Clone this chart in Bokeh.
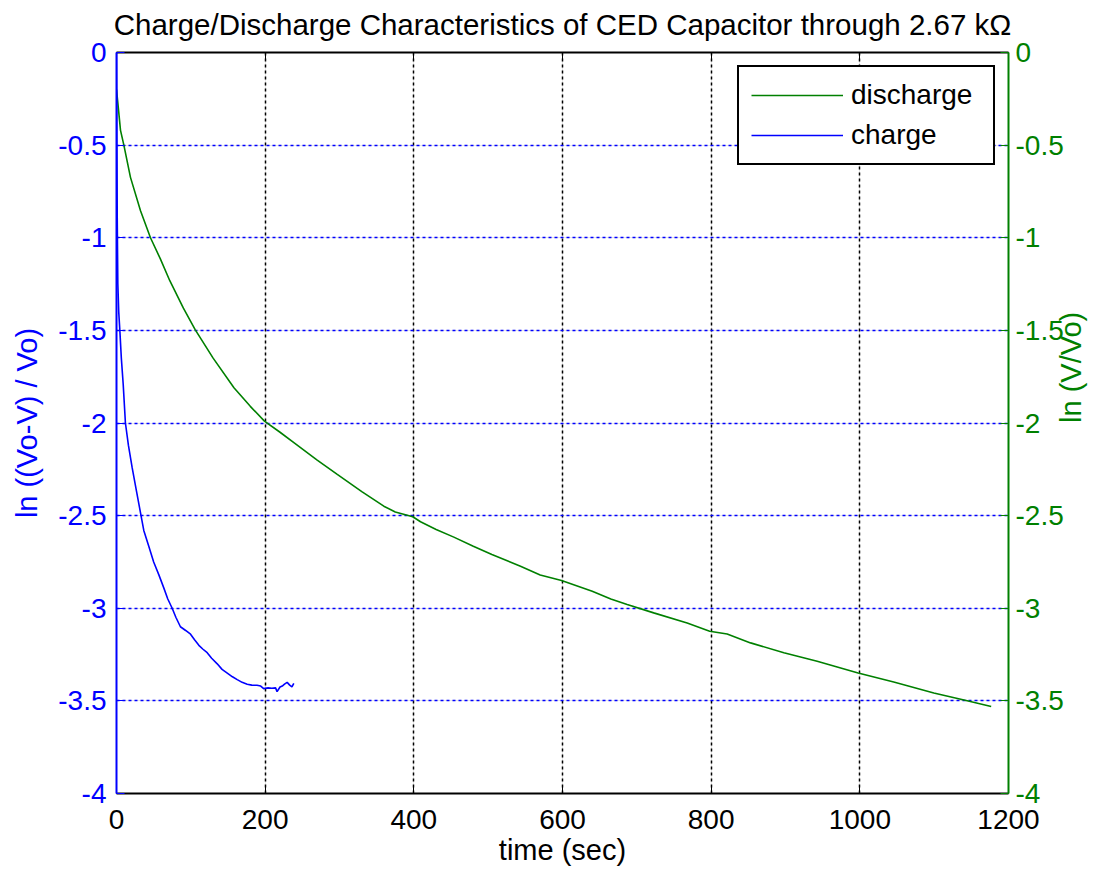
import math
from bokeh.plotting import figure
from bokeh.models import (Range1d, LinearAxis, FixedTicker, CustomJSTickFormatter,
                          Legend, LegendItem, Grid)
from bokeh.embed import file_html
from bokeh.resources import INLINE

# ---------------- data ----------------
charge_t = [0, 0.5, 1, 1.8, 3, 4.5, 6.5, 9, 12, 16, 21, 27, 33, 36.7, 43, 50, 57,
            63.6, 69, 74.9, 80, 86, 93, 99.6, 105, 110.8, 116, 122, 128, 135.5,
            142, 149, 156, 162.4, 169, 175.8, 182, 189, 194, 198, 204, 209, 214,
            216, 220, 223, 226, 229.6, 233, 236, 238.5]
charge_v = [0, -0.5, -0.9, -1.25, -1.4, -1.5, -1.65, -1.79, -2.0, -2.12, -2.24,
            -2.37, -2.5, -2.58, -2.66, -2.75, -2.82, -2.89, -2.95, -3.0, -3.05,
            -3.1, -3.12, -3.14, -3.17, -3.2, -3.22, -3.24, -3.27, -3.3, -3.33,
            -3.35, -3.37, -3.385, -3.4, -3.41, -3.415, -3.416, -3.42, -3.434,
            -3.43, -3.432, -3.43, -3.45, -3.425, -3.42, -3.41, -3.40, -3.415,
            -3.425, -3.405]

discharge_t = [0, 2, 5.4, 9.9, 18.8, 32.3, 45.7, 59, 71.7, 90, 106, 130, 158, 180,
               199, 220, 238.6, 270, 297, 330, 359.6, 375, 398.6, 409, 430, 453.8,
               480, 505, 543.5, 570, 598.7, 640, 665, 687, 722.7, 767.7, 798,
               821.5, 853, 897.8, 942.6, 997.7, 1045.6, 1099.5, 1144.4, 1176.7]
discharge_v = [-0.2, -0.28, -0.42, -0.5, -0.674, -0.854, -1.0, -1.114, -1.232,
               -1.38, -1.497, -1.65, -1.81, -1.91, -1.99, -2.05, -2.106, -2.2,
               -2.277, -2.37, -2.449, -2.48, -2.506, -2.533, -2.575, -2.616,
               -2.665, -2.71, -2.773, -2.82, -2.85, -2.908, -2.95, -2.98, -3.025,
               -3.08, -3.124, -3.139, -3.187, -3.24, -3.286, -3.35, -3.398,
               -3.457, -3.499, -3.53]

x_ticks = [0, 200, 400, 600, 800, 1000, 1200]
y_ticks = [0, -0.5, -1, -1.5, -2, -2.5, -3, -3.5, -4]

title_text = "Charge/Discharge Characteristics of CED Capacitor through 2.67 k\u03a9"
x_label = "time (sec)"
left_label = "ln ((Vo-V) / Vo)"
right_label = "ln (V/Vo)"

BLUE = "#0000ff"
GREEN = "#008000"
FONT = "Liberation Sans"

p = figure(frame_width=892, frame_height=741, output_backend="svg",
           toolbar_location=None, x_range=Range1d(0, 1200), y_range=Range1d(-4, 0),
           min_border_left=116, min_border_top=52, min_border_right=10,
           min_border_bottom=10, x_axis_location=None, y_axis_location=None)
p.outline_line_color = None
p.background_fill_color = "white"
p.border_fill_color = "white"

fmt = CustomJSTickFormatter(code="return String(tick)")

def style_axis(ax, color, label=None, size="29px"):
    ax.axis_line_color = color
    ax.axis_line_width = 2
    ax.major_tick_line_color = color
    ax.major_tick_in = 8
    ax.major_tick_out = 0
    ax.minor_tick_line_color = None
    ax.major_label_text_color = color
    ax.major_label_text_font = FONT
    ax.major_label_text_font_size = "28px"
    ax.major_label_standoff = 8
    if label:
        ax.axis_label = label
        ax.axis_label_text_color = color
        ax.axis_label_text_font = FONT
        ax.axis_label_text_font_size = size
        ax.axis_label_text_font_style = "normal"
        ax.axis_label_standoff = 10

xaxis = LinearAxis(ticker=FixedTicker(ticks=x_ticks), formatter=fmt)
style_axis(xaxis, "black", x_label)
xaxis.major_label_standoff = 16
xaxis.axis_label_standoff = 2
p.add_layout(xaxis, "below")

# top box edge with inward ticks; its axis label carries the chart title
top_axis = LinearAxis(ticker=FixedTicker(ticks=x_ticks), formatter=fmt)
style_axis(top_axis, "black", title_text, size="29.5px")
top_axis.major_label_text_font_size = "0px"
top_axis.major_label_standoff = 0
top_axis.axis_label_standoff = 12
p.add_layout(top_axis, "above")

left_axis = LinearAxis(ticker=FixedTicker(ticks=y_ticks), formatter=fmt)
style_axis(left_axis, BLUE, left_label)
left_axis.major_label_standoff = 10
left_axis.axis_label_standoff = 12
p.add_layout(left_axis, "left")

p.extra_y_ranges = {"right": Range1d(-4, 0)}
right_axis = LinearAxis(y_range_name="right", ticker=FixedTicker(ticks=y_ticks), formatter=fmt)
style_axis(right_axis, GREEN)
right_axis.major_label_standoff = 7
p.add_layout(right_axis, "right")

# outer right axis only carries the right-hand label (reading bottom-to-top)
right_title_axis = LinearAxis(y_range_name="right", ticker=FixedTicker(ticks=[]),
                              bounds=(-4, -0.64))
right_title_axis.axis_line_color = None
right_title_axis.major_tick_line_color = None
right_title_axis.minor_tick_line_color = None
right_title_axis.major_label_text_font_size = "0px"
right_title_axis.major_label_standoff = 0
right_title_axis.axis_label = right_label
right_title_axis.axis_label_text_color = GREEN
right_title_axis.axis_label_text_font = FONT
right_title_axis.axis_label_text_font_size = "29px"
right_title_axis.axis_label_text_font_style = "normal"
right_title_axis.axis_label_standoff = 4
right_title_axis.axis_label_orientation = math.pi / 2
p.add_layout(right_title_axis, "right")

xgrid = Grid(dimension=0, ticker=FixedTicker(ticks=x_ticks[1:-1]),
             grid_line_color="black", grid_line_dash="3 3", grid_line_width=1.5)
ygrid = Grid(dimension=1, ticker=FixedTicker(ticks=y_ticks[1:-1]),
             grid_line_color=BLUE, grid_line_dash="3 3", grid_line_width=1.5)
p.add_layout(xgrid)
p.add_layout(ygrid)

r_dis = p.line(discharge_t, discharge_v, line_color=GREEN, line_width=1.6,
               y_range_name="right")
r_chg = p.line(charge_t, charge_v, line_color=BLUE, line_width=1.6)

legend = Legend(items=[LegendItem(label="discharge", renderers=[r_dis]),
                       LegendItem(label="charge", renderers=[r_chg])],
                location="top_right")
legend.margin = 13
legend.border_line_color = "black"
legend.border_line_alpha = 1
legend.border_line_width = 2
legend.background_fill_color = "white"
legend.background_fill_alpha = 1
legend.label_text_font = FONT
legend.label_text_font_size = "28px"
legend.label_text_color = "black"
legend.glyph_width = 92
legend.glyph_height = 32
legend.label_height = 32
legend.label_width = 130
legend.spacing = 8
legend.padding = 12
legend.label_standoff = 8
p.add_layout(legend)

open("out.html", "w").write(file_html(p, INLINE))
